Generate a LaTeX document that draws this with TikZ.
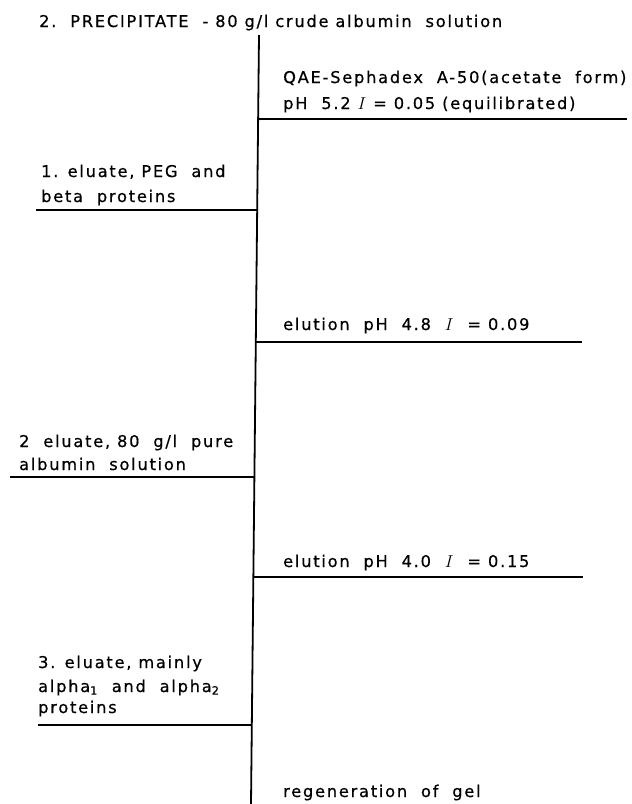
\documentclass[tikz,border=0pt]{standalone}
\usepackage{fontspec}
\setmainfont{DejaVu Sans}[LetterSpace=11,FakeBold=0.6]
\begin{document}
\begin{tikzpicture}[x=1pt,y=-1pt,
  lbl/.style={inner sep=0pt,anchor=base west,font=\fontsize{16.2}{19}\selectfont},
  trunk/.style={line width=1.8pt,line cap=butt},
  branch/.style={line width=1.6pt}]
\useasboundingbox (0,0) rectangle (632,804);
% trunk coordinates
\coordinate (top) at (259,35);
\coordinate (bot) at (251,804);
\coordinate (r1) at (258,119);
\coordinate (r1e) at (627,119);
\coordinate (l1) at (257,210);
\coordinate (l1e) at (36,210);
\coordinate (r2) at (256,342);
\coordinate (r2e) at (582,342);
\coordinate (l2) at (254,477);
\coordinate (l2e) at (10,477);
\coordinate (r3) at (253,577);
\coordinate (r3e) at (583,577);
\coordinate (l3) at (252,725);
\coordinate (l3e) at (38,725);
\draw[trunk] (top) -- (bot);
\draw[branch] (r1) -- (r1e);
\draw[branch] (l1) -- (l1e);
\draw[branch] (r2) -- (r2e);
\draw[branch] (l2) -- (l2e);
\draw[branch] (r3) -- (r3e);
\draw[branch] (l3) -- (l3e);
% labels
\node[lbl] (title) at (39,27) {2.\ \ PRECIPITATE \ - 80 g/l crude albumin \ solution};
\node[lbl] (qae1) at (283,83) {QAE-Sephadex \ A-50(acetate \ form)};
\node[lbl] (qae2) at (283,109) {pH \ 5.2 $I$ = 0.05 (equilibrated)};
\node[lbl] (e1a) at (41,177) {1. eluate, PEG \ and};
\node[lbl] (e1b) at (41,202) {beta \ proteins};
\node[lbl] (el1) at (283,330) {elution \ pH \ 4.8 \ $I$ \ = 0.09};
\node[lbl] (e2a) at (19,447) {2 \ eluate, 80 \ g/l \ pure};
\node[lbl] (e2b) at (19,470) {albumin \ solution};
\node[lbl] (el2) at (283,567) {elution \ pH \ 4.0 \ $I$ \ = 0.15};
\node[lbl] (e3a) at (38,668) {3. eluate, mainly};
\node[lbl] (e3b) at (38,692) {alpha\textsubscript{1} \ and \ alpha\textsubscript{2}};
\node[lbl] (e3c) at (38,713) {proteins};
\node[lbl] (reg) at (283,797) {regeneration \ of \ gel};
\end{tikzpicture}
\end{document}
